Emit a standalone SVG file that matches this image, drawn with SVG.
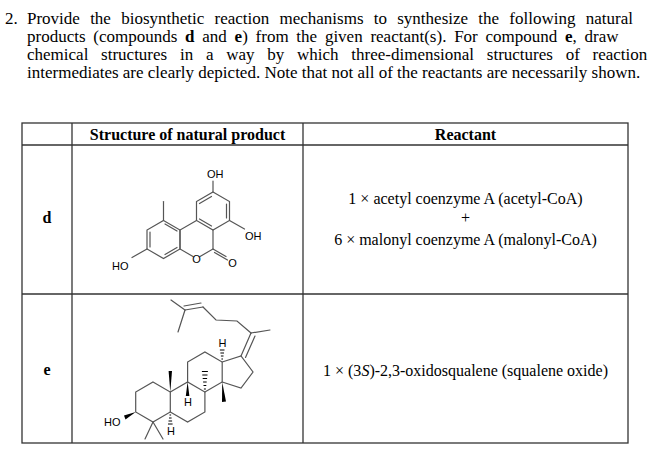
<svg xmlns="http://www.w3.org/2000/svg" width="654" height="459" viewBox="0 0 654 459">
<style>
.t{font-family:"Liberation Serif","Times New Roman",serif;font-size:17px;fill:#000}
.c{font-family:"Liberation Serif","Times New Roman",serif;font-size:16px;fill:#000}
.b{font-weight:bold}
.lbl{font-family:"Liberation Sans",Arial,sans-serif;font-size:11px;fill:#000}
.g{stroke:#555;stroke-width:1.2;fill:none;stroke-linecap:round}
.tb{stroke:#333;stroke-width:1.3;fill:none}
.w{fill:#000;stroke:none}
.h{stroke:#000;stroke-width:1}
</style>
<rect width="654" height="459" fill="#fff"/>
<g id="question">
<text class="t" x="5" y="24">2.</text>
<text class="t" x="27" y="24" word-spacing="6">Provide the biosynthetic reaction mechanisms to synthesize the following natural</text>
<text class="t" x="27" y="42" word-spacing="3.5">products (compounds <tspan class="b">d</tspan> and <tspan class="b">e</tspan>) from the given reactant(s). For compound <tspan class="b">e</tspan>, draw</text>
<text class="t" x="27" y="60" word-spacing="8.5">chemical structures in a way by which three-dimensional structures of reaction</text>
<text class="t" x="27" y="78">intermediates are clearly depicted. Note that not all of the reactants are necessarily shown.</text>
</g>
<g id="table">
<rect class="tb" x="22" y="123" width="606" height="320"/>
<line class="tb" x1="22" y1="145" x2="628" y2="145"/>
<line class="tb" x1="22" y1="294" x2="628" y2="294"/>
<line class="tb" x1="72" y1="123" x2="72" y2="443"/>
<line class="tb" x1="303" y1="123" x2="303" y2="443"/>
<text class="c b" x="187.5" y="140" text-anchor="middle">Structure of natural product</text>
<text class="c b" x="465.5" y="140" text-anchor="middle">Reactant</text>
<text class="c b" x="47" y="223" text-anchor="middle">d</text>
<text class="c b" x="47" y="375" text-anchor="middle">e</text>
<text class="c" x="465.5" y="204" text-anchor="middle">1 × acetyl coenzyme A (acetyl-CoA)</text>
<text class="c" x="465.5" y="223" text-anchor="middle">+</text>
<text class="c" x="465.5" y="245" text-anchor="middle">6 × malonyl coenzyme A (malonyl-CoA)</text>
<text class="c" x="465.5" y="376" text-anchor="middle">1 × (3<tspan font-style="italic">S</tspan>)-2,3-oxidosqualene (squalene oxide)</text>
</g>
<g id="compound-d">
<polygon class="g" points="213,192 229.5,201.5 229.5,220.5 213,230 196.5,220.5 196.5,201.5"/>
<line class="g" x1="226.5" y1="204" x2="226.5" y2="218"/>
<line class="g" x1="199.5" y1="203.5" x2="211.5" y2="196.5"/>
<line class="g" x1="199.5" y1="219" x2="211.5" y2="226"/>
<polyline class="g" points="213,230 213,249 200,256.5"/>
<polyline class="g" points="193,256.5 180,249 180,230 196.5,220.5"/>
<line class="g" x1="213" y1="249" x2="226" y2="256.5"/>
<line class="g" x1="214.5" y1="252.5" x2="227.5" y2="260"/>
<polygon class="g" points="163.5,220.5 180,230 180,249 163.5,258.5 147,249 147,230"/>
<line class="g" x1="150" y1="232" x2="150" y2="247"/>
<line class="g" x1="165" y1="224" x2="177" y2="231"/>
<line class="g" x1="177" y1="247.5" x2="165" y2="254.5"/>
<line class="g" x1="163.5" y1="220.5" x2="163.5" y2="201.5"/>
<line class="g" x1="147" y1="249" x2="132" y2="257.5"/>
<line class="g" x1="213" y1="192" x2="213" y2="181"/>
<line class="g" x1="229.5" y1="220.5" x2="244.5" y2="229"/>
<text class="lbl" x="207" y="178">OH</text>
<text class="lbl" x="245" y="240">OH</text>
<text class="lbl" x="112" y="270">HO</text>
<text class="lbl" x="196.5" y="262.5" text-anchor="middle">O</text>
<text class="lbl" x="232.5" y="267" text-anchor="middle">O</text>
</g>
<g id="compound-e">
<polygon class="g" points="153,382 170.3,392 170.3,412 153,422 135.7,412 135.7,392"/>
<polyline class="g" points="170.3,412 187.6,422 204.9,412 204.9,392 187.6,382 170.3,392"/>
<polyline class="g" points="187.6,382 187.6,362 204.9,352 222.2,362 222.2,382 204.9,392"/>
<polyline class="g" points="222.2,362 241,356 253,372 241,388 222.2,382"/>
<line class="g" x1="241" y1="356" x2="251" y2="333"/>
<line class="g" x1="245.5" y1="357.5" x2="255" y2="336"/>
<line class="g" x1="251" y1="333" x2="270" y2="330"/>
<polyline class="g" points="251,333 237,321 216,320 203,307"/>
<line class="g" x1="203" y1="307" x2="185" y2="310"/>
<line class="g" x1="201" y1="303" x2="184" y2="306"/>
<line class="g" x1="185" y1="310" x2="171" y2="300"/>
<line class="g" x1="185" y1="310" x2="178" y2="332"/>
<polygon class="w" points="170.3,392 168.6,371 172,371"/>
<polygon class="w" points="187.6,382 185.8,396 189.4,396"/>
<text class="lbl" x="188" y="406" text-anchor="middle">H</text>
<g class="h">
<line x1="203.9" y1="389" x2="205.9" y2="389"/>
<line x1="203.5" y1="385.5" x2="206.3" y2="385.5"/>
<line x1="203.1" y1="382" x2="206.7" y2="382"/>
<line x1="202.7" y1="378.5" x2="207.1" y2="378.5"/>
<line x1="202.3" y1="375" x2="207.5" y2="375"/>
<line x1="201.9" y1="371.5" x2="207.9" y2="371.5"/>
</g>
<polygon class="w" points="222.2,382 222,402 226,401.5"/>
<g class="h">
<line x1="221.4" y1="359" x2="223" y2="359"/>
<line x1="220.9" y1="356" x2="223.5" y2="356"/>
<line x1="220.4" y1="353" x2="224" y2="353"/>
<line x1="219.9" y1="350" x2="224.5" y2="350"/>
</g>
<text class="lbl" x="222.5" y="347" text-anchor="middle">H</text>
<g class="h">
<line x1="169.5" y1="415" x2="171.1" y2="415"/>
<line x1="169" y1="418" x2="171.6" y2="418"/>
<line x1="168.5" y1="421" x2="172.1" y2="421"/>
<line x1="168" y1="424" x2="172.6" y2="424"/>
</g>
<text class="lbl" x="171" y="435" text-anchor="middle">H</text>
<line class="g" x1="153" y1="422" x2="145" y2="439"/>
<line class="g" x1="153" y1="422" x2="163" y2="439"/>
<polygon class="w" points="135.7,412 124,415.5 125.5,419.5"/>
<text class="lbl" x="104" y="426">HO</text>
</g>
</svg>
